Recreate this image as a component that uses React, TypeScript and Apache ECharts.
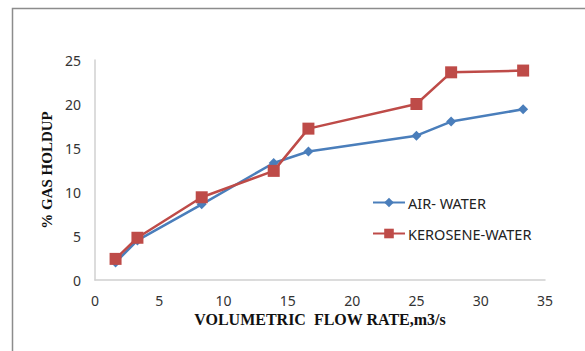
import React, { useEffect, useRef } from "react";
import * as echarts from "echarts";

const flowAir = [1.6, 3.3, 8.3, 13.9, 16.6, 25.0, 27.7, 33.3];
const holdupAir = [2.0, 4.5, 8.6, 13.3, 14.6, 16.4, 18.0, 19.4];
const flowKero = [1.6, 3.3, 8.3, 13.9, 16.6, 25.0, 27.7, 33.3];
const holdupKero = [2.4, 4.8, 9.4, 12.4, 17.2, 20.0, 23.6, 23.8];
const seriesNames = ["AIR- WATER", "KEROSENE-WATER"];

export default function App() {
  const ref = useRef<HTMLDivElement>(null);
  useEffect(() => {
    if (!ref.current) return;
    const chart = echarts.init(ref.current, undefined, { renderer: "svg" });
    const tickFont = { fontFamily: "Noto Sans", fontSize: 14, color: "#333" };
    chart.setOption({
      animation: false,
      backgroundColor: "#fff",
      grid: { left: 95, right: 40, top: 60, bottom: 71 },
      graphic: {
        elements: [
          {
            type: "polyline",
            z: 100,
            silent: true,
            shape: { points: [[12.5, 351], [12.5, 8.5], [585, 8.5]] },
            style: { fill: "none", stroke: "#8c8c8c", lineWidth: 1.5 },
          },
        ],
      },
      legend: {
        orient: "vertical",
        left: 367,
        top: 190,
        itemWidth: 32,
        itemHeight: 12,
        itemGap: 16,
        textStyle: { fontFamily: "Noto Sans", fontSize: 14.5, color: "#222", padding: [0, 0, 0, -2] },
        data: seriesNames,
      },
      xAxis: {
        type: "value",
        min: 0,
        max: 35,
        interval: 5,
        name: "VOLUMETRIC  FLOW RATE,m3/s",
        nameLocation: "middle",
        nameGap: 30,
        nameTextStyle: { fontFamily: "Liberation Serif", fontWeight: "bold", fontSize: 16, color: "#111" },
        axisLine: { lineStyle: { color: "#d0d0d0", width: 1.5 } },
        axisTick: { show: false },
        splitLine: { show: false },
        axisLabel: { ...tickFont, margin: 13 },
      },
      yAxis: {
        type: "value",
        min: 0,
        max: 25,
        interval: 5,
        name: "% GAS HOLDUP",
        nameLocation: "middle",
        nameGap: 38,
        nameTextStyle: { fontFamily: "Liberation Serif", fontWeight: "bold", fontSize: 15, color: "#111" },
        axisLine: { show: true, lineStyle: { color: "#d0d0d0", width: 1.5 } },
        axisTick: { show: false },
        splitLine: { show: false },
        axisLabel: { ...tickFont, margin: 14 },
      },
      series: [
        {
          name: seriesNames[0],
          type: "line",
          data: flowAir.map((x, i) => [x, holdupAir[i]]),
          symbol: "diamond",
          symbolSize: 10,
          lineStyle: { color: "#4A7EBB", width: 2.5 },
          itemStyle: { color: "#4A7EBB" },
          z: 2,
        },
        {
          name: seriesNames[1],
          type: "line",
          data: flowKero.map((x, i) => [x, holdupKero[i]]),
          symbol: "rect",
          symbolSize: 12,
          lineStyle: { color: "#BE4B48", width: 2.5 },
          itemStyle: { color: "#BE4B48" },
          z: 3,
        },
      ],
    });
    return () => chart.dispose();
  }, []);
  return <div ref={ref} style={{ position: "fixed", left: 0, top: 0, width: 585, height: 351 }} />;
}
